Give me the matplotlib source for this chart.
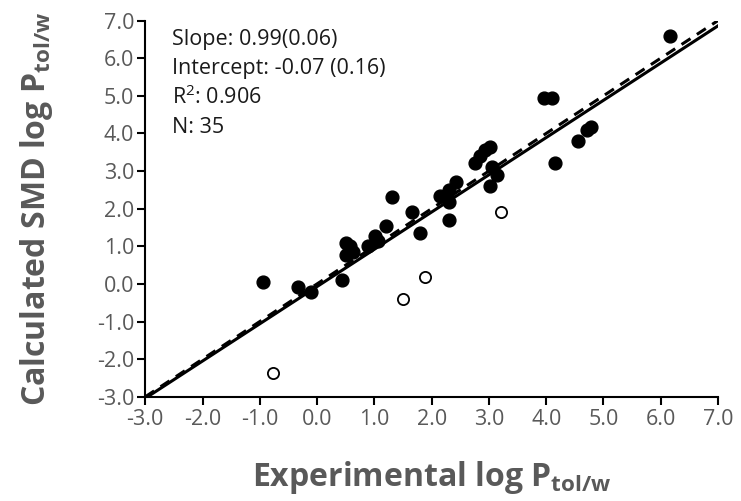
import matplotlib
matplotlib.use("Agg")
import matplotlib.pyplot as plt
import numpy as np

plt.rcParams['font.family'] = ['Open Sans', 'DejaVu Sans']
plt.rcParams['mathtext.fontset'] = 'custom'
plt.rcParams['mathtext.rm'] = 'Open Sans'
plt.rcParams['mathtext.it'] = 'Open Sans'
plt.rcParams['mathtext.bf'] = 'Open Sans:bold'

# Filled points (included in fit)
exp_fit = [-0.94, -0.34, -0.11, 0.43, 0.51, 0.50, 0.63, 0.58, 0.89, 1.01, 1.07, 1.21,
           1.31, 1.66, 1.79, 2.15, 2.30, 2.42, 2.30, 2.30, 2.26, 2.76, 2.85, 2.93,
           3.02, 3.05, 3.14, 3.02, 3.96, 4.11, 4.79, 4.72, 4.56, 4.15, 6.16]
calc_fit = [0.04, -0.07, -0.22, 0.11, 1.08, 0.77, 0.86, 1.00, 1.01, 1.28, 1.13, 1.55,
            2.30, 1.91, 1.35, 2.34, 2.50, 2.72, 2.19, 1.70, 2.30, 3.21, 3.40, 3.55,
            3.64, 3.12, 2.90, 2.61, 4.94, 4.94, 4.18, 4.08, 3.81, 3.21, 6.60]
# Open points (excluded)
exp_out = [-0.77, 1.50, 1.88, 3.21]
calc_out = [-2.37, -0.40, 0.19, 1.90]

slope = 0.99
intercept = -0.07
ticks = [-3.0, -2.0, -1.0, 0.0, 1.0, 2.0, 3.0, 4.0, 5.0, 6.0, 7.0]
stats_text = ["Slope: 0.99(0.06)", "Intercept: -0.07 (0.16)", r"R$^{2}$: 0.906", "N: 35"]

fig = plt.figure(figsize=(7.41, 5.01), dpi=100)
ax = fig.add_axes([0.196, 0.208, 0.773, 0.751])

xl = np.array([-3.0, 7.0])
ax.plot(xl, xl, color='black', lw=2.2, ls=(0, (3.5, 2.5)), zorder=2)
ax.plot(xl, slope * xl + intercept, color='black', lw=2.2, zorder=2)

ax.scatter(exp_fit, calc_fit, s=85, color='black', zorder=3)
ax.scatter(exp_out, calc_out, s=65, facecolor='white', edgecolor='black', linewidth=1.3, zorder=3)

ax.set_xlim(-3, 7)
ax.set_ylim(-3, 7)
ax.set_xticks(ticks)
ax.set_yticks(ticks)
ax.set_xticklabels([f"{t:.1f}" for t in ticks])
ax.set_yticklabels([f"{t:.1f}" for t in ticks])

for s in ['top', 'right']:
    ax.spines[s].set_visible(False)
for s in ['left', 'bottom']:
    ax.spines[s].set_linewidth(1.5)
    ax.spines[s].set_color('black')
ax.tick_params(direction='out', length=6, width=1.5, color='black',
               labelsize=15.5, labelcolor='#595959')
ax.tick_params(axis='x', pad=3)
ax.tick_params(axis='y', pad=2)

ax.set_xlabel(r"Experimental log P$_{\mathbf{tol/w}}$", fontsize=23, fontweight='bold',
              color='#595959', labelpad=21)
ax.set_ylabel(r"Calculated SMD log P$_{\mathbf{tol/w}}$", fontsize=23, fontweight='bold',
              color='#595959', labelpad=30)

for i, t in enumerate(stats_text):
    ax.text(0.046, 0.936 - i * 0.0785, t, transform=ax.transAxes, fontsize=15.5,
            color='#1a1a1a', va='baseline', ha='left')

fig.savefig("out.png", dpi=100)
